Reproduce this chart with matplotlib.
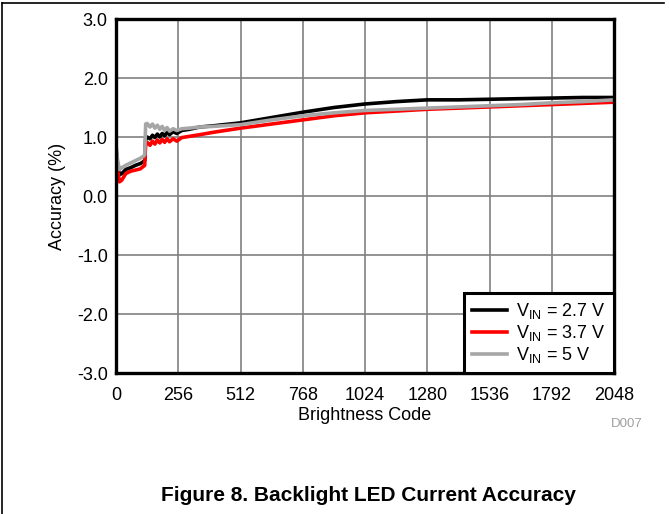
import matplotlib.pyplot as plt
from matplotlib.lines import Line2D

plt.rcParams['font.family'] = ['Liberation Sans', 'DejaVu Sans']
plt.rcParams['mathtext.fontset'] = 'custom'
plt.rcParams['mathtext.rm'] = 'Liberation Sans'

# brightness codes where the curves were read
codes = [0, 6, 14, 24, 40, 60, 80, 100, 112, 118, 122, 128, 140, 150, 160, 170,
         180, 190, 200, 210, 220, 235, 250, 270, 300, 345, 400, 512, 640, 768,
         896, 1024, 1152, 1280, 1408, 1536, 1664, 1792, 1920, 2048]

acc_27 = [0.80, 0.55, 0.36, 0.38, 0.45, 0.48, 0.52, 0.55, 0.58, 0.60, 0.98, 1.00,
          0.97, 1.03, 0.99, 1.05, 1.00, 1.06, 1.02, 1.08, 1.04, 1.09, 1.06, 1.11,
          1.13, 1.17, 1.19, 1.24, 1.33, 1.42, 1.50, 1.56, 1.60, 1.63, 1.63, 1.64,
          1.65, 1.66, 1.67, 1.67]
acc_37 = [0.70, 0.45, 0.24, 0.27, 0.38, 0.42, 0.44, 0.46, 0.50, 0.52, 0.89, 0.91,
          0.86, 0.93, 0.88, 0.95, 0.90, 0.96, 0.91, 0.97, 0.92, 0.97, 0.93, 0.99,
          1.01, 1.04, 1.08, 1.15, 1.22, 1.29, 1.36, 1.41, 1.44, 1.47, 1.49, 1.51,
          1.53, 1.55, 1.57, 1.59]
acc_5 = [0.88, 0.62, 0.45, 0.48, 0.52, 0.56, 0.60, 0.64, 0.67, 0.70, 1.22, 1.23,
         1.17, 1.22, 1.15, 1.20, 1.13, 1.18, 1.11, 1.16, 1.10, 1.14, 1.11, 1.14,
         1.15, 1.17, 1.18, 1.21, 1.29, 1.36, 1.41, 1.45, 1.47, 1.49, 1.51, 1.53,
         1.55, 1.58, 1.60, 1.63]

x_ticks = [0, 256, 512, 768, 1024, 1280, 1536, 1792, 2048]
y_ticks = [-3.0, -2.0, -1.0, 0.0, 1.0, 2.0, 3.0]

fig = plt.figure(figsize=(6.69, 5.14), dpi=100)
ax = fig.add_axes([0.1734, 0.2743, 0.7444, 0.6887])

ax.plot(codes, acc_27, color='black', lw=2.6, label=r'V$_{\mathrm{IN}}$ = 2.7 V')
ax.plot(codes, acc_37, color='#ff0000', lw=2.6, label=r'V$_{\mathrm{IN}}$ = 3.7 V')
ax.plot(codes, acc_5, color='#a6a6a6', lw=2.6, label=r'V$_{\mathrm{IN}}$ = 5 V')

ax.set_xlim(0, 2048)
ax.set_ylim(-3, 3)
ax.set_xticks(x_ticks)
ax.set_yticks(y_ticks)
ax.set_yticklabels([f'{v:.1f}' for v in y_ticks])
ax.tick_params(length=0, labelsize=13)
ax.tick_params(axis='x', pad=10)
ax.tick_params(axis='y', pad=6)
ax.grid(True, color='#808080', lw=1.2)
ax.set_axisbelow(True)
for s in ax.spines.values():
    s.set_linewidth(2.4)
    s.set_color('black')

ax.set_xlabel('Brightness Code', fontsize=13)
ax.set_ylabel('Accuracy (%)', fontsize=13)
ax.xaxis.set_label_coords(0.5, -0.097)
ax.yaxis.set_label_coords(-0.100, 0.5)

leg = ax.legend(loc='lower right', borderaxespad=0, fancybox=False,
                fontsize=13, handlelength=1.95, labelspacing=0.1,
                borderpad=0.45, handletextpad=0.5)
leg.get_frame().set_edgecolor('black')
leg.get_frame().set_linewidth(2.2)
leg.get_frame().set_alpha(1)

fig.text(0.961, 0.175, 'D007', color='#a0a0a0', fontsize=9.5, ha='right', va='center')
fig.text(0.551, 0.036, 'Figure 8. Backlight LED Current Accuracy', fontsize=15,
         fontweight='bold', ha='center', va='center')

# page frame lines (top and left)
fig.add_artist(Line2D([0.003, 0.993], [0.994, 0.994], color='black', lw=1.2,
                      transform=fig.transFigure))
fig.add_artist(Line2D([0.003, 0.003], [0.0, 0.994], color='black', lw=1.2,
                      transform=fig.transFigure))

fig.savefig('out.png', dpi=100)
